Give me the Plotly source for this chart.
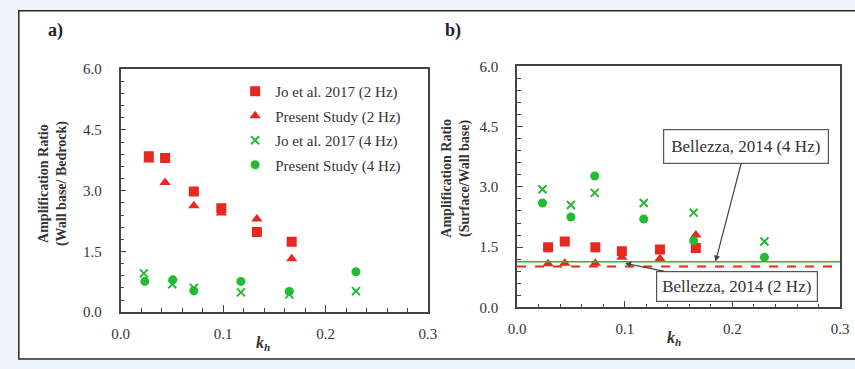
import plotly.graph_objects as go

# ---------------- data ----------------
# Panel a) Wall base / Bedrock
a_jo2_x = [0.0275, 0.0434, 0.0715, 0.0983, 0.133, 0.167]
a_jo2_y = [3.85, 3.81, 2.98, 2.57, 1.98, 1.74]
a_ps2_x = [0.0275, 0.0434, 0.0715, 0.0983, 0.133, 0.167]
a_ps2_y = [3.76, 3.20, 2.63, 2.45, 2.30, 1.32]
a_jo4_x = [0.0227, 0.0504, 0.0715, 0.1174, 0.1646, 0.2297]
a_jo4_y = [0.96, 0.69, 0.60, 0.49, 0.44, 0.52]
a_ps4_x = [0.0236, 0.0510, 0.0715, 0.1174, 0.1646, 0.2297]
a_ps4_y = [0.76, 0.80, 0.53, 0.76, 0.51, 1.00]

# Panel b) Surface / Wall base
b_jo2_x = [0.0288, 0.0443, 0.0727, 0.0973, 0.1327, 0.166]
b_jo2_y = [1.50, 1.64, 1.50, 1.40, 1.44, 1.48]
b_ps2_x = [0.0288, 0.0443, 0.0727, 0.0973, 0.1327, 0.166]
b_ps2_y = [1.09, 1.10, 1.10, 1.25, 1.21, 1.80]
b_jo4_x = [0.0236, 0.0500, 0.0721, 0.1176, 0.1640, 0.2297]
b_jo4_y = [2.94, 2.55, 2.85, 2.60, 2.36, 1.64]
b_ps4_x = [0.0236, 0.0500, 0.0721, 0.1176, 0.1640, 0.2297]
b_ps4_y = [2.60, 2.25, 3.27, 2.20, 1.66, 1.25]

bellezza_x = [0.0, 0.3]
bellezza_4hz = 1.14
bellezza_2hz = 1.02

legend_names = ["Jo et al. 2017 (2 Hz)", "Present Study (2 Hz)",
                "Jo et al. 2017 (4 Hz)", "Present Study (4 Hz)"]
x_ticks = [0.0, 0.1, 0.2, 0.3]
y_ticks = [0.0, 1.5, 3.0, 4.5, 6.0]

# ---------------- style ----------------
RED = "#e8281e"
GREEN = "#22bb33"
SERIF = "Liberation Serif"
AXC = "#444444"
W, H = 855, 369

fig = go.Figure()

styles = [
    dict(symbol="square", color=RED, size=10),
    dict(symbol="triangle-up", color=RED, size=10),
    dict(symbol="x-thin", color=GREEN, size=8, line=dict(color=GREEN, width=2)),
    dict(symbol="circle", color=GREEN, size=9),
]

panel_a = [(a_jo2_x, a_jo2_y), (a_ps2_x, a_ps2_y), (a_jo4_x, a_jo4_y), (a_ps4_x, a_ps4_y)]
panel_b = [(b_jo2_x, b_jo2_y), (b_ps2_x, b_ps2_y), (b_jo4_x, b_jo4_y), (b_ps4_x, b_ps4_y)]

for i, ((xs, ys), st) in enumerate(zip(panel_a, styles)):
    fig.add_trace(go.Scatter(x=xs, y=ys, mode="markers", name=legend_names[i],
                             marker=st, xaxis="x", yaxis="y",
                             legendgroup=f"g{i}", showlegend=True))
for i, ((xs, ys), st) in enumerate(zip(panel_b, styles)):
    fig.add_trace(go.Scatter(x=xs, y=ys, mode="markers", name=legend_names[i],
                             marker=st, xaxis="x2", yaxis="y2", showlegend=False))

fig.add_trace(go.Scatter(x=bellezza_x, y=[bellezza_4hz] * 2, mode="lines",
                         line=dict(color=GREEN, width=1.5), xaxis="x2", yaxis="y2",
                         showlegend=False))
fig.add_trace(go.Scatter(x=bellezza_x, y=[bellezza_2hz] * 2, mode="lines",
                         line=dict(color=RED, width=2, dash="dash"), xaxis="x2", yaxis="y2",
                         showlegend=False))


def px_x(p):
    return p / W


def px_y(p):
    return 1 - p / H


xa = dict(range=[0, 0.3], tickvals=x_ticks, tickformat=".1f",
          showline=True, mirror=True, linecolor=AXC, linewidth=1.5,
          ticks="inside", ticklen=7, tickcolor=AXC, tickwidth=1.2,
          minor=dict(dtick=0.02, ticks="inside", ticklen=4, tickcolor=AXC, tickwidth=1),
          showgrid=False, zeroline=False,
          tickfont=dict(family=SERIF, size=15, color="#333333"), ticklabelstandoff=7)
ya = dict(range=[0, 6], tickvals=y_ticks, tickformat=".1f",
          showline=True, mirror=True, linecolor=AXC, linewidth=1.5,
          ticks="inside", ticklen=6, tickcolor=AXC, tickwidth=1.2,
          minor=dict(dtick=0.3, ticks="inside", ticklen=4, tickcolor=AXC, tickwidth=1),
          showgrid=False, zeroline=False,
          tickfont=dict(family=SERIF, size=15, color="#333333"), ticklabelstandoff=14)

fig.update_layout(
    width=W, height=H,
    margin=dict(l=0, r=0, t=0, b=0),
    paper_bgcolor="#eef3f9",
    plot_bgcolor="white",
    font=dict(family=SERIF, color="#333333"),
    xaxis=dict(xa, domain=[px_x(114), px_x(428)], anchor="y"),
    yaxis=dict(ya, domain=[px_y(318), px_y(64)], anchor="x"),
    xaxis2=dict(xa, domain=[px_x(519), px_x(849)], anchor="y2"),
    yaxis2=dict(ya, domain=[px_y(313), px_y(61)], anchor="x2"),
    showlegend=True,
    legend=dict(x=px_x(231), y=px_y(70), xanchor="left", yanchor="top",
                bgcolor="rgba(0,0,0,0)", borderwidth=0,
                font=dict(family=SERIF, size=15, color="#333333"),
                itemwidth=30, tracegroupgap=2, traceorder="grouped"),
)

# outer frame
fig.add_shape(type="rect", xref="paper", yref="paper",
              x0=px_x(10), x1=px_x(870), y0=px_y(367), y1=px_y(3),
              line=dict(color="#2a2a2a", width=1.5), fillcolor="white", layer="below")

C = dict(xanchor="center", yanchor="middle", xref="paper", yref="paper", showarrow=False)
ann = []
# panel labels
ann.append(dict(C, text="<b>a)</b>", x=px_x(48), y=px_y(23),
                font=dict(family=SERIF, size=18, color="#222222")))
ann.append(dict(C, text="<b>b)</b>", x=px_x(454), y=px_y(24),
                font=dict(family=SERIF, size=18, color="#222222")))
# y axis titles
ann.append(dict(C, text="<b>Amplification Ratio<br>(Wall base/ Bedrock)</b>", x=px_x(45), y=px_y(184),
                textangle=-90, font=dict(family=SERIF, size=14, color="#333333")))
ann.append(dict(C, text="<b>Amplification Ratio<br>(Surface/Wall base)</b>", x=px_x(457), y=px_y(178),
                textangle=-90, font=dict(family=SERIF, size=14, color="#333333")))
# x axis titles
ann.append(dict(C, text="<b><i>k<sub>h</sub></i></b>", x=px_x(259), y=px_y(351),
                font=dict(family=SERIF, size=16, color="#333333")))
ann.append(dict(C, text="<b><i>k<sub>h</sub></i></b>", x=px_x(679), y=px_y(346),
                font=dict(family=SERIF, size=16, color="#333333")))
# Bellezza call-outs
ann.append(dict(text="Bellezza, 2014 (4 Hz)", x=0.1843, y=bellezza_4hz, xref="x2", yref="y2",
                ax=30, ay=-115, showarrow=True, arrowhead=2, arrowsize=1, arrowwidth=1.2,
                arrowcolor="#444444", bgcolor="white", bordercolor="#555555", borderwidth=1.2,
                borderpad=7, font=dict(family=SERIF, size=17, color="#333333")))
ann.append(dict(text="Bellezza, 2014 (2 Hz)", x=0.1003, y=1.10, xref="x2", yref="y2",
                ax=112, ay=23, showarrow=True, arrowhead=2, arrowsize=1, arrowwidth=1.2,
                arrowcolor="#444444", bgcolor="white", bordercolor="#555555", borderwidth=1.2,
                borderpad=5, font=dict(family=SERIF, size=17, color="#333333")))
fig.update_layout(annotations=ann)

fig.write_html("out.html")
